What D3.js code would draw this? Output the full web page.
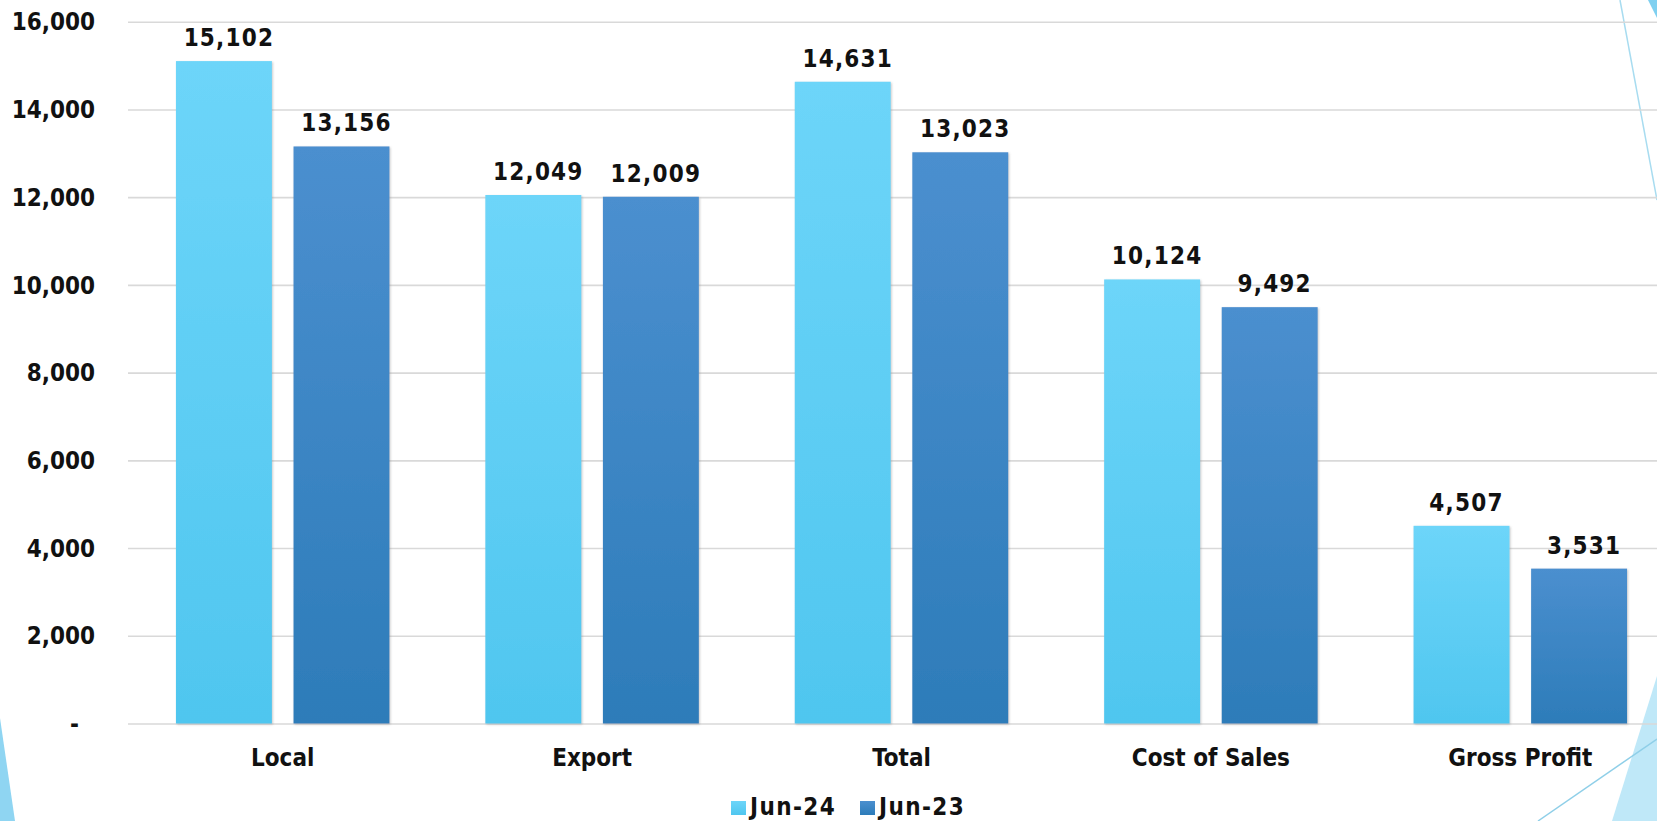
<!DOCTYPE html>
<html>
<head>
<meta charset="utf-8">
<script src="https://cdn.jsdelivr.net/npm/d3@7/dist/d3.min.js"></script>
<style>
  html, body { margin: 0; padding: 0; background: #ffffff; }
  svg { display: block; }
  text { font-family: "DejaVu Sans Condensed", "DejaVu Sans", sans-serif; font-stretch: condensed; font-weight: bold; fill: #111111; }
</style>
</head>
<body>
<svg id="chart" width="1657" height="821"></svg>
<script>
const categories = ["Local", "Export", "Total", "Cost of Sales", "Gross Profit"];
const seriesNames = ["Jun-24", "Jun-23"];
const jun24 = [15102, 12049, 14631, 10124, 4507];
const jun23 = [13156, 12009, 13023, 9492, 3531];
const tickValues = [0, 2000, 4000, 6000, 8000, 10000, 12000, 14000, 16000];
const tickLabels = ["-", "2,000", "4,000", "6,000", "8,000", "10,000", "12,000", "14,000", "16,000"];

const W = 1657, H = 821;
const svg = d3.select("#chart");

// gradients & shadow
const defs = svg.append("defs");
const grads = [
  {id: "g24", top: "#6dd5f9", bottom: "#4fc6ef"},
  {id: "g23", top: "#4b8fcf", bottom: "#2d7cb9"}
];
grads.forEach(g => {
  const lg = defs.append("linearGradient").attr("id", g.id)
    .attr("x1", 0).attr("y1", 0).attr("x2", 0).attr("y2", 1);
  lg.append("stop").attr("offset", "0%").attr("stop-color", g.top);
  lg.append("stop").attr("offset", "100%").attr("stop-color", g.bottom);
});
const f = defs.append("filter").attr("id", "shadow")
  .attr("x", "-10%").attr("y", "-10%").attr("width", "120%").attr("height", "120%");
f.append("feDropShadow").attr("dx", 1).attr("dy", 1).attr("stdDeviation", 1.2)
  .attr("flood-color", "#888888").attr("flood-opacity", 0.45);

// decorations (theme shapes)
const deco = svg.append("g");
deco.append("polygon").attr("points", "0,718 15,821 0,821").attr("fill", "#8fd5f2");
deco.append("polygon").attr("points", "1657,676 1657,821 1612,821").attr("fill", "#bfe8f8");
deco.append("line").attr("x1", 1538).attr("y1", 821).attr("x2", 1657).attr("y2", 739)
  .attr("stroke", "#8fcfe8").attr("stroke-width", 1.5);
deco.append("line").attr("x1", 1620).attr("y1", 0).attr("x2", 1657).attr("y2", 200)
  .attr("stroke", "#a8dcf0").attr("stroke-width", 1.5);
deco.append("polygon").attr("points", "1648,0 1657,0 1657,18").attr("fill", "#7fd0f0");

// scales
const y = d3.scaleLinear().domain([0, 16000]).range([723.5, 21.7]);
const x0 = d3.scaleBand().domain(categories).range([128, 1675]).paddingInner(0.31).paddingOuter(0.155);
const x1 = d3.scaleBand().domain(seriesNames).range([0, x0.bandwidth()]).paddingInner(0.184).paddingOuter(0);

// gridlines
const grid = svg.append("g").attr("transform", "translate(128,0)")
  .call(d3.axisLeft(y).tickValues(tickValues).tickSize(-(W - 128)).tickFormat(""));
grid.select(".domain").remove();
grid.selectAll(".tick line").attr("stroke", "#d9d9d9").attr("stroke-width", 1.6);

// y labels
const yAxis = svg.append("g").attr("transform", "translate(95,0)")
  .call(d3.axisLeft(y).tickValues(tickValues).tickSize(0).tickPadding(0)
    .tickFormat((d, i) => tickLabels[i]));
yAxis.select(".domain").remove();
yAxis.selectAll(".tick text")
  .attr("font-size", 24).attr("fill", "#111").attr("dy", "0.34em")
  .attr("dx", d => d === 0 ? -16 : 0)
  .style("font-family", '"DejaVu Sans Condensed", "DejaVu Sans", sans-serif')
  .style("font-weight", "bold");

// bars
const data = categories.map((c, i) => ({cat: c, vals: [
  {s: seriesNames[0], v: jun24[i]}, {s: seriesNames[1], v: jun23[i]}
]}));
const groups = svg.append("g").selectAll("g").data(data).join("g")
  .attr("transform", d => `translate(${x0(d.cat)},0)`);
groups.selectAll("rect").data(d => d.vals).join("rect")
  .attr("x", d => x1(d.s)).attr("width", x1.bandwidth())
  .attr("y", d => y(d.v)).attr("height", d => y(0) - y(d.v))
  .attr("fill", d => d.s === seriesNames[0] ? "url(#g24)" : "url(#g23)")
  .attr("filter", "url(#shadow)");
groups.selectAll("text.val").data(d => d.vals).join("text")
  .attr("class", "val")
  .attr("x", d => x1(d.s) + x1.bandwidth() / 2 + 5)
  .attr("y", d => y(d.v) - 15)
  .attr("text-anchor", "middle").attr("font-size", 24)
  .attr("letter-spacing", 1.2)
  .text(d => d3.format(",")(d.v));

// x axis labels
const xAxis = svg.append("g").attr("transform", `translate(0,${y(0)})`)
  .call(d3.axisBottom(x0).tickSize(0).tickPadding(0));
xAxis.select(".domain").remove();
xAxis.selectAll(".tick text")
  .attr("font-size", 24).attr("fill", "#111").attr("y", 42).attr("dy", 0)
  .style("font-family", '"DejaVu Sans Condensed", "DejaVu Sans", sans-serif')
  .style("font-weight", "bold");

// legend
const legendX = [731, 860];
const legend = svg.append("g");
seriesNames.forEach((s, i) => {
  legend.append("rect").attr("x", legendX[i]).attr("y", 801).attr("width", 15).attr("height", 14)
    .attr("fill", i === 0 ? "url(#g24)" : "url(#g23)");
  legend.append("text").attr("x", legendX[i] + 19).attr("y", 815).attr("font-size", 24)
    .attr("letter-spacing", 1.4).text(s);
});
</script>
</body>
</html>
